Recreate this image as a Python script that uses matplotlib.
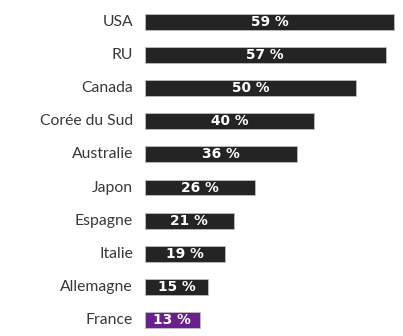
import matplotlib
matplotlib.use("Agg")
import matplotlib.pyplot as plt

# share of respondents per country
pays = ["USA", "RU", "Canada", "Corée du Sud", "Australie", "Japon",
        "Espagne", "Italie", "Allemagne", "France"]
valeurs = [59, 57, 50, 40, 36, 26, 21, 19, 15, 13]
couleurs = ["#242424"] * 9 + ["#68208c"]

plt.rcParams['font.family'] = ['Lato', 'DejaVu Sans']

fig = plt.figure(figsize=(4.03, 3.36), dpi=100)
ax = fig.add_axes([145 / 403, 0, 250 / 403, 1])

y = list(range(len(pays)))
ax.barh(y, valeurs, height=0.48, color=couleurs, edgecolor="#bdbdbd", linewidth=0.6)

for i, v in enumerate(valeurs):
    ax.text(v / 2, i, "%d %%" % v, ha="center", va="center",
            color="white", fontsize=9.9, fontweight="bold", family="DejaVu Sans")
    ax.text(-12 * 59.25 / 250, i, pays[i], ha="right", va="center",
            color="#383838", fontsize=11.3)

ax.set_xlim(0, 59.25)
ax.set_ylim(9.486, -0.665)
ax.axis("off")

fig.savefig("out.png", dpi=100)
